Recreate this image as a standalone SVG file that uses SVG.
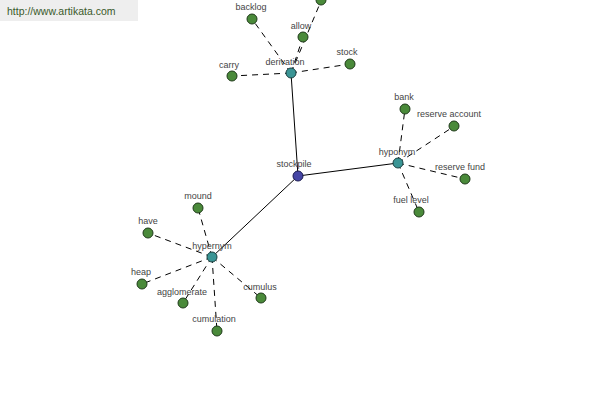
<svg xmlns="http://www.w3.org/2000/svg" width="600" height="400" viewBox="0 0 600 400">
<style>
text{font-family:"Liberation Sans",Arial,sans-serif;font-size:9px;fill:#444;text-anchor:middle}
.wm{font-size:10.5px;fill:#3a5a2a;text-anchor:start}
.solid{stroke:#000;stroke-width:1;fill:none}
.dash{stroke:#000;stroke-width:1;fill:none;stroke-dasharray:6,5}
.leaf{fill:#4a8a3a;stroke:#1f3a1a;stroke-width:1}
.rel{fill:#3a9595;stroke:#1a4040;stroke-width:1}
.root{fill:#4545a5;stroke:#1a1a50;stroke-width:1}
</style>
<rect width="600" height="400" fill="#fff"/>
<rect x="0" y="0" width="138" height="21" fill="#eeeeee"/>
<text class="wm" x="7" y="15">http://www.artikata.com</text>
<g id="connectors">
<line class="solid" x1="298" y1="176" x2="291" y2="73"/>
<line class="solid" x1="298" y1="176" x2="398" y2="163"/>
<line class="solid" x1="298" y1="176" x2="212" y2="257"/>
<line class="dash" x1="291" y1="73" x2="252" y2="19"/>
<line class="dash" x1="291" y1="73" x2="303" y2="37"/>
<line class="dash" x1="291" y1="73" x2="321" y2="1"/>
<line class="dash" x1="291" y1="73" x2="350" y2="64"/>
<line class="dash" x1="291" y1="73" x2="232" y2="76"/>
<line class="dash" x1="398" y1="163" x2="405" y2="109"/>
<line class="dash" x1="398" y1="163" x2="453" y2="127"/>
<line class="dash" x1="398" y1="163" x2="465" y2="179"/>
<line class="dash" x1="398" y1="163" x2="419" y2="212"/>
<line class="dash" x1="212" y1="257" x2="198" y2="208"/>
<line class="dash" x1="212" y1="257" x2="148" y2="233"/>
<line class="dash" x1="212" y1="257" x2="142" y2="284"/>
<line class="dash" x1="212" y1="257" x2="183" y2="303"/>
<line class="dash" x1="212" y1="257" x2="217" y2="331"/>
<line class="dash" x1="212" y1="257" x2="261" y2="298"/>
</g>
<g id="n-top"><circle class="leaf" cx="321" cy="0" r="5"/></g>
<g id="n-backlog"><circle class="leaf" cx="252" cy="19" r="5"/><text x="251" y="10">backlog</text></g>
<g id="n-allow"><circle class="leaf" cx="303" cy="37" r="5"/><text x="301" y="29">allow</text></g>
<g id="n-stock"><circle class="leaf" cx="350" cy="64" r="5"/><text x="347" y="55">stock</text></g>
<g id="n-carry"><circle class="leaf" cx="232" cy="76" r="5"/><text x="229" y="68">carry</text></g>
<g id="n-derivation"><circle class="rel" cx="291" cy="73" r="5"/><text x="285" y="65">derivation</text></g>
<g id="n-bank"><circle class="leaf" cx="405" cy="109" r="5"/><text x="404" y="100">bank</text></g>
<g id="n-reserve-account"><circle class="leaf" cx="454" cy="126" r="5"/><text x="449" y="117">reserve account</text></g>
<g id="n-reserve-fund"><circle class="leaf" cx="465" cy="179" r="5"/><text x="460" y="170">reserve fund</text></g>
<g id="n-fuel-level"><circle class="leaf" cx="419" cy="212" r="5"/><text x="411" y="203">fuel level</text></g>
<g id="n-hyponym"><circle class="rel" cx="398" cy="163" r="5"/><text x="397" y="155">hyponym</text></g>
<g id="n-stockpile"><circle class="root" cx="298" cy="176" r="5"/><text x="294" y="167">stockpile</text></g>
<g id="n-mound"><circle class="leaf" cx="198" cy="208" r="5"/><text x="198" y="199">mound</text></g>
<g id="n-have"><circle class="leaf" cx="148" cy="233" r="5"/><text x="148" y="224">have</text></g>
<g id="n-heap"><circle class="leaf" cx="142" cy="284" r="5"/><text x="141" y="275">heap</text></g>
<g id="n-agglomerate"><circle class="leaf" cx="183" cy="303" r="5"/><text x="182" y="295">agglomerate</text></g>
<g id="n-cumulation"><circle class="leaf" cx="217" cy="331" r="5"/><text x="214" y="322">cumulation</text></g>
<g id="n-cumulus"><circle class="leaf" cx="261" cy="298" r="5"/><text x="260" y="290">cumulus</text></g>
<g id="n-hypernym"><circle class="rel" cx="212" cy="257" r="5"/><text x="212" y="249">hypernym</text></g>
</svg>
